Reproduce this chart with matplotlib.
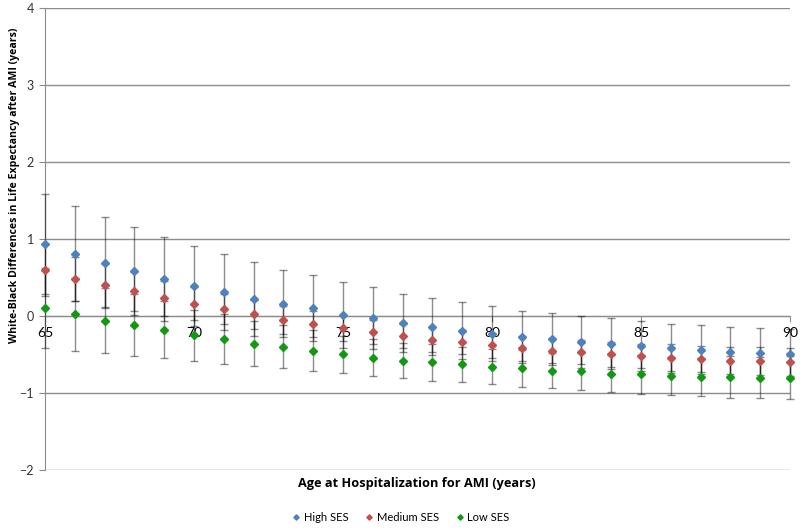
import matplotlib.pyplot as plt
import numpy as np

plt.rcParams['font.family'] = ['Lato', 'DejaVu Sans']

ages = np.arange(65, 91)

# point estimates
high_ses = [0.93, 0.81, 0.69, 0.58, 0.48, 0.39, 0.31, 0.22, 0.16, 0.10, 0.01, -0.03, -0.09,
            -0.14, -0.19, -0.23, -0.27, -0.30, -0.34, -0.36, -0.39, -0.42, -0.44, -0.47, -0.48, -0.49]
medium_ses = [0.60, 0.48, 0.40, 0.32, 0.23, 0.16, 0.09, 0.02, -0.05, -0.10, -0.16, -0.21, -0.26,
              -0.31, -0.34, -0.38, -0.42, -0.45, -0.47, -0.50, -0.52, -0.54, -0.56, -0.58, -0.59, -0.60]
low_ses = [0.10, 0.02, -0.06, -0.12, -0.18, -0.25, -0.30, -0.36, -0.40, -0.45, -0.50, -0.54, -0.58,
           -0.60, -0.63, -0.66, -0.68, -0.71, -0.72, -0.75, -0.76, -0.78, -0.79, -0.79, -0.80, -0.80]

# half widths of the error bars
high_err = [0.65, 0.62, 0.59, 0.57, 0.55, 0.52, 0.49, 0.48, 0.44, 0.43, 0.43, 0.40, 0.38,
            0.37, 0.37, 0.36, 0.34, 0.34, 0.34, 0.33, 0.32, 0.32, 0.32, 0.32, 0.32, 0.32]
medium_err = [0.34, 0.29, 0.28, 0.25, 0.23, 0.21, 0.20, 0.19, 0.18, 0.17, 0.17, 0.16, 0.16,
              0.16, 0.16, 0.16, 0.16, 0.16, 0.16, 0.16, 0.16, 0.17, 0.17, 0.17, 0.18, 0.18]
low_err = [0.52, 0.47, 0.42, 0.40, 0.37, 0.33, 0.32, 0.29, 0.28, 0.27, 0.24, 0.24, 0.23,
           0.24, 0.23, 0.23, 0.24, 0.23, 0.24, 0.24, 0.25, 0.25, 0.25, 0.27, 0.27, 0.28]

series = [
    ('High SES', high_ses, high_err, '#4F81BD'),
    ('Medium SES', medium_ses, medium_err, '#C0504D'),
    ('Low SES', low_ses, low_err, '#119A11'),
]

fig = plt.figure(figsize=(8, 5.28), dpi=100)
ax = fig.add_axes([0.05625, 0.110, 0.93125, 0.875])

for name, vals, err, col in series:
    eb = ax.errorbar(ages, vals, yerr=err, fmt='none', ecolor='black', alpha=0.45,
                     elinewidth=1, capsize=3, capthick=1, zorder=3)
    for part in eb.lines[1] + eb.lines[2]:
        part.set_clip_on(False)

for name, vals, err, col in series:
    ax.plot(ages, vals, linestyle='none', marker='D', markersize=4.5, color=col,
            label=name, zorder=4, clip_on=False)

ax.set_xlim(65, 90)
ax.set_ylim(-2, 4)
ax.set_yticks(range(-2, 5))
ax.set_xticks(range(65, 91, 5))
ax.yaxis.grid(True, color='#8c8c8c', linewidth=1)
ax.set_axisbelow(True)

for s in ['top', 'right']:
    ax.spines[s].set_visible(False)
ax.spines['bottom'].set_position(('data', 0))
ax.spines['bottom'].set_color('#8c8c8c')
ax.spines['left'].set_color('#8c8c8c')
ax.tick_params(axis='x', length=4, color='#8c8c8c', labelsize=10, pad=4)
ax.tick_params(axis='y', length=4, color='#8c8c8c', labelsize=9, pad=4, labelcolor='#333333')

# axis titles, bold
fig.text(0.018, 1 - 185 / 528, 'White-Black Differences in Life Expectancy after AMI (years)',
         rotation=90, ha='center', va='center', fontsize=7.6, fontweight='bold',
         family='Open Sans')
fig.text(417 / 800, 1 - 483 / 528, 'Age at Hospitalization for AMI (years)', ha='center',
         va='center', fontsize=9.2, fontweight='bold', family='Open Sans')

ax.legend(loc='center', bbox_to_anchor=(0.478, -0.102), ncol=3, frameon=False,
          fontsize=8, markerscale=0.6, handlelength=0.6, handletextpad=0.35, columnspacing=1.6)

fig.savefig('out.png', dpi=100)
